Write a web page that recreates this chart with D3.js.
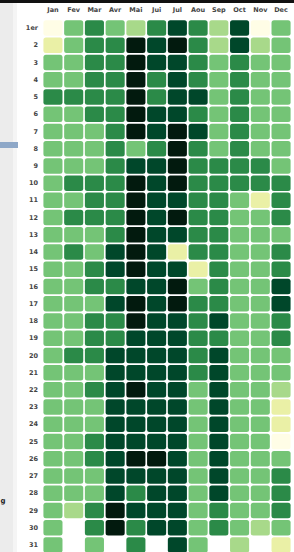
<!DOCTYPE html>
<html>
<head>
<meta charset="utf-8">
<script src="https://cdn.jsdelivr.net/npm/d3@7"></script>
<style>
  body { margin: 0; background: #fff; }
  svg { display: block; }
</style>
</head>
<body>
<div id="chart"></div>
<script>
// months (french short labels) and day labels
const months = ["Jan", "Fev", "Mar", "Avr", "Mai", "Jui", "Jul", "Aou", "Sep", "Oct", "Nov", "Dec"];
const days = d3.range(1, 32).map(d => d === 1 ? "1er" : String(d));

// intensity level per day (0 = lowest, 6 = highest), null = no such day
const jan = [0,1,3,3,4,3,3,3,3,3,3,3,3,3,3,3,3,3,3,3,3,3,3,3,3,3,3,3,3,3,3];
const fev = [3,3,3,3,4,3,3,3,3,4,3,4,3,4,3,3,3,3,3,4,3,3,3,3,3,3,3,3,2,null,null];
const mar = [4,4,4,4,4,4,3,3,3,4,4,4,3,3,4,4,3,4,4,4,3,4,3,3,4,4,3,3,4,4,3];
const avr = [3,4,4,4,4,4,4,4,4,4,4,4,4,5,5,4,5,4,4,5,5,5,5,5,5,5,5,5,6,6,null];
const mai = [2,6,6,6,6,6,6,3,5,6,6,6,6,6,6,5,6,6,5,5,5,6,5,5,5,6,5,4,5,4,4];
const jui = [4,5,5,4,4,5,5,4,5,5,5,5,5,5,5,5,5,5,5,5,5,5,5,5,5,6,5,5,5,5,null];
const jul = [5,6,5,5,5,5,6,6,6,6,5,6,5,1,5,6,6,5,5,5,5,5,5,5,5,5,5,5,5,5,5];
const aou = [4,4,4,4,5,4,5,4,4,4,4,4,4,4,1,3,4,4,4,4,4,3,3,3,3,3,3,3,3,3,3];
const sep = [2,2,3,3,3,3,3,3,4,4,4,4,4,4,4,4,4,5,4,5,5,5,5,5,5,5,5,5,4,4,null];
const oct = [5,5,4,4,4,4,4,4,4,4,3,3,3,3,3,3,3,3,3,3,3,3,3,3,3,3,3,3,3,3,2];
const nov = [0,2,3,3,3,3,3,3,4,4,1,3,3,3,3,3,3,3,3,3,3,3,3,3,3,3,3,3,3,2,null];
const dec = [3,3,3,3,3,3,3,3,3,4,4,4,3,4,4,5,5,4,4,3,3,2,1,1,0,3,4,4,4,3,1];

const series = [jan, fev, mar, avr, mai, jui, jul, aou, sep, oct, nov, dec];
const palette = ["#fffde6", "#eaf0a6", "#a8d98a", "#74c476", "#2b8a48", "#00472a", "#021a0e"];

const width = 294;
const height = 552;

const cells = [];
series.forEach((vals, m) => {
  vals.forEach((v, d) => {
    if (v !== null) cells.push({month: months[m], day: days[d], value: v});
  });
});

const svg = d3.select("#chart")
  .append("svg")
  .attr("width", width)
  .attr("height", height);

// left side panel of the page
svg.append("rect").attr("x", 0).attr("y", 0).attr("width", 13).attr("height", height).attr("fill", "#ececec");
svg.append("rect").attr("x", 13).attr("y", 0).attr("width", 4).attr("height", height).attr("fill", "#f5f5f5");
svg.append("rect").attr("x", 0).attr("y", 142).attr("width", 18).attr("height", 6).attr("fill", "#8ea8c8");
svg.append("text").attr("x", 0.5).attr("y", 503)
  .attr("font-family", "DejaVu Sans").attr("font-size", 7).attr("font-weight", "bold")
  .attr("fill", "#222").text("g");
// top bar
svg.append("rect").attr("x", 0).attr("y", 0).attr("width", width).attr("height", 3).attr("fill", "#111");

const x = d3.scaleBand()
  .domain(months)
  .range([43, 291])
  .paddingInner(0.08)
  .paddingOuter(0.02);

const y = d3.scaleBand()
  .domain(days)
  .range([20, 553])
  .paddingInner(0.1)
  .paddingOuter(0.02);

const color = d3.scaleOrdinal()
  .domain(d3.range(palette.length))
  .range(palette);

svg.append("g")
  .selectAll("rect")
  .data(cells)
  .join("rect")
    .attr("x", d => x(d.month))
    .attr("y", d => y(d.day))
    .attr("width", x.bandwidth())
    .attr("height", y.bandwidth())
    .attr("rx", 2.5)
    .attr("fill", d => color(d.value));

// month labels on top
svg.append("g")
  .attr("transform", "translate(0, 12)")
  .call(d3.axisTop(x).tickSize(0).tickPadding(0))
  .call(g => g.select(".domain").remove())
  .call(g => g.selectAll("text")
    .attr("font-family", "DejaVu Sans")
    .attr("font-size", 6.5)
    .attr("font-weight", "bold")
    .attr("fill", "#444"));

// day labels on the left
svg.append("g")
  .attr("transform", "translate(38, 0)")
  .call(d3.axisLeft(y).tickSize(0).tickPadding(0))
  .call(g => g.select(".domain").remove())
  .call(g => g.selectAll("text")
    .attr("font-family", "DejaVu Sans")
    .attr("font-size", 6.5)
    .attr("font-weight", "bold")
    .attr("fill", "#444"));
</script>
</body>
</html>
